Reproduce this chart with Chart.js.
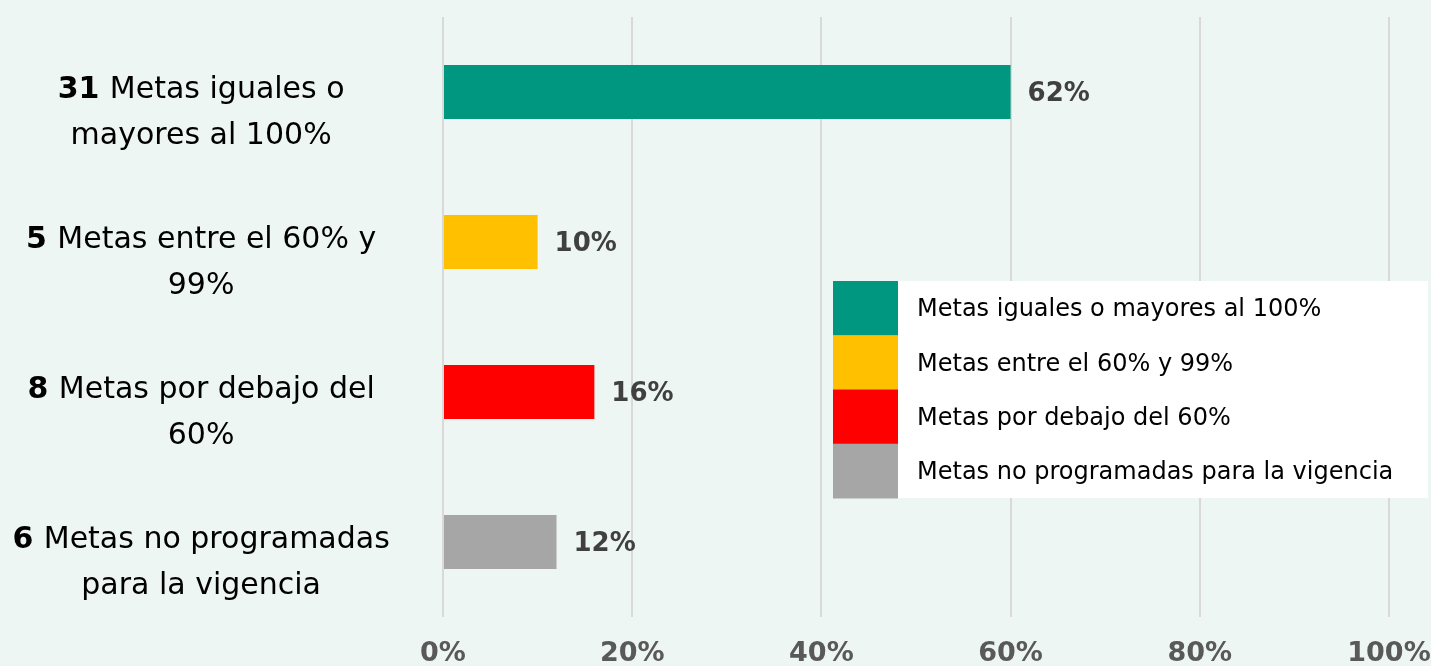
<!DOCTYPE html>
<html>
<head>
<meta charset="utf-8">
<script src="https://cdn.jsdelivr.net/npm/chart.js@4.4.1/dist/chart.umd.min.js"></script>
<style>
html,body{margin:0;padding:0;background:#EEF6F4;overflow:hidden;}
#wrap{width:1431px;height:666px;position:relative;}
</style>
</head>
<body>
<div id="wrap"><canvas id="c"></canvas></div>
<script>
// ---- data ----
const counts = ["31", "5", "8", "6"];
const categoryLines = [
  ["Metas iguales o", "mayores al 100%"],
  ["Metas entre el 60% y", "99%"],
  ["Metas por debajo del", "60%"],
  ["Metas no programadas", "para la vigencia"]
];
const legendLabels = [
  "Metas iguales o mayores al 100%",
  "Metas entre el 60% y 99%",
  "Metas por debajo del 60%",
  "Metas no programadas para la vigencia"
];
const barValues = [60, 10, 16, 12];
const valueLabels = ["62%", "10%", "16%", "12%"];
const barColors = ["#009780", "#FFC000", "#FF0000", "#A6A6A6"];
const xTickValues = [0, 20, 40, 60, 80, 100];

const FONT = "'DejaVu Sans', sans-serif";

const labelsPlugin = {
  id: 'customLabels',
  afterDatasetsDraw(chart) {
    const ctx = chart.ctx;
    const y = chart.scales.y;
    const meta = chart.getDatasetMeta(0);
    ctx.save();
    // value labels
    ctx.fillStyle = '#404040';
    ctx.font = "bold 26px " + FONT;
    ctx.textAlign = 'left';
    ctx.textBaseline = 'middle';
    meta.data.forEach((bar, i) => {
      ctx.fillText(valueLabels[i], bar.x + 17, bar.y + 2);
    });
    // category labels
    const cx = y.left + (y.right - y.left) * 0.454;
    counts.forEach((n, i) => {
      const cy = y.getPixelForValue(i);
      ctx.textBaseline = 'alphabetic';
      ctx.fillStyle = '#000000';
      ctx.font = "bold 30px " + FONT;
      const wb = ctx.measureText(n + " ").width;
      ctx.font = "30px " + FONT;
      const wt = ctx.measureText(categoryLines[i][0]).width;
      const start = cx - (wb + wt) / 2;
      ctx.textAlign = 'left';
      ctx.font = "bold 30px " + FONT;
      ctx.fillText(n + " ", start, cy + 6);
      ctx.font = "30px " + FONT;
      ctx.fillText(categoryLines[i][0], start + wb, cy + 6);
      ctx.textAlign = 'center';
      ctx.fillText(categoryLines[i][1], cx, cy + 52);
    });
    ctx.restore();
  }
};

const legendPlugin = {
  id: 'boxLegend',
  afterDraw(chart) {
    const ctx = chart.ctx;
    const left = 833, top = 281, right = 1428, rowH = 54.25, sw = 65;
    ctx.save();
    ctx.fillStyle = '#FFFFFF';
    ctx.fillRect(left, top, right - left, rowH * legendLabels.length);
    legendLabels.forEach((t, i) => {
      const ry = top + rowH * i;
      ctx.fillStyle = barColors[i];
      ctx.fillRect(left, ry, sw, rowH + 0.5);
      ctx.fillStyle = '#000000';
      ctx.font = "24px " + FONT;
      ctx.textAlign = 'left';
      ctx.textBaseline = 'middle';
      ctx.fillText(t, left + 84, ry + rowH / 2 + 2);
    });
    ctx.restore();
  }
};

new Chart(document.getElementById('c'), {
  type: 'bar',
  data: {
    labels: legendLabels,
    datasets: [{
      data: barValues,
      backgroundColor: barColors,
      borderWidth: 0,
      barPercentage: 0.6,
      categoryPercentage: 0.6
    }]
  },
  options: {
    indexAxis: 'y',
    responsive: true,
    maintainAspectRatio: false,
    animation: false,
    layout: { padding: { top: 17, right: 42, left: 0, bottom: 0 } },
    plugins: { legend: { display: false }, tooltip: { enabled: false } },
    scales: {
      x: {
        min: 0, max: 100,
        afterBuildTicks(scale) { scale.ticks = xTickValues.map(v => ({ value: v })); },
        afterFit(scale) { scale.height = 49; scale.paddingLeft = 0; scale.paddingRight = 0; },
        grid: { color: '#D9D9D9', lineWidth: 2, drawTicks: false },
        border: { display: false },
        ticks: {
          padding: 21,
          color: '#595959',
          font: { family: FONT, size: 27, weight: 'bold' },
          callback: v => v + '%'
        }
      },
      y: {
        afterFit(scale) { scale.width = 443; },
        grid: { display: false, drawTicks: false },
        border: { display: false },
        ticks: { display: false }
      }
    }
  },
  plugins: [labelsPlugin, legendPlugin]
});
</script>
</body>
</html>
